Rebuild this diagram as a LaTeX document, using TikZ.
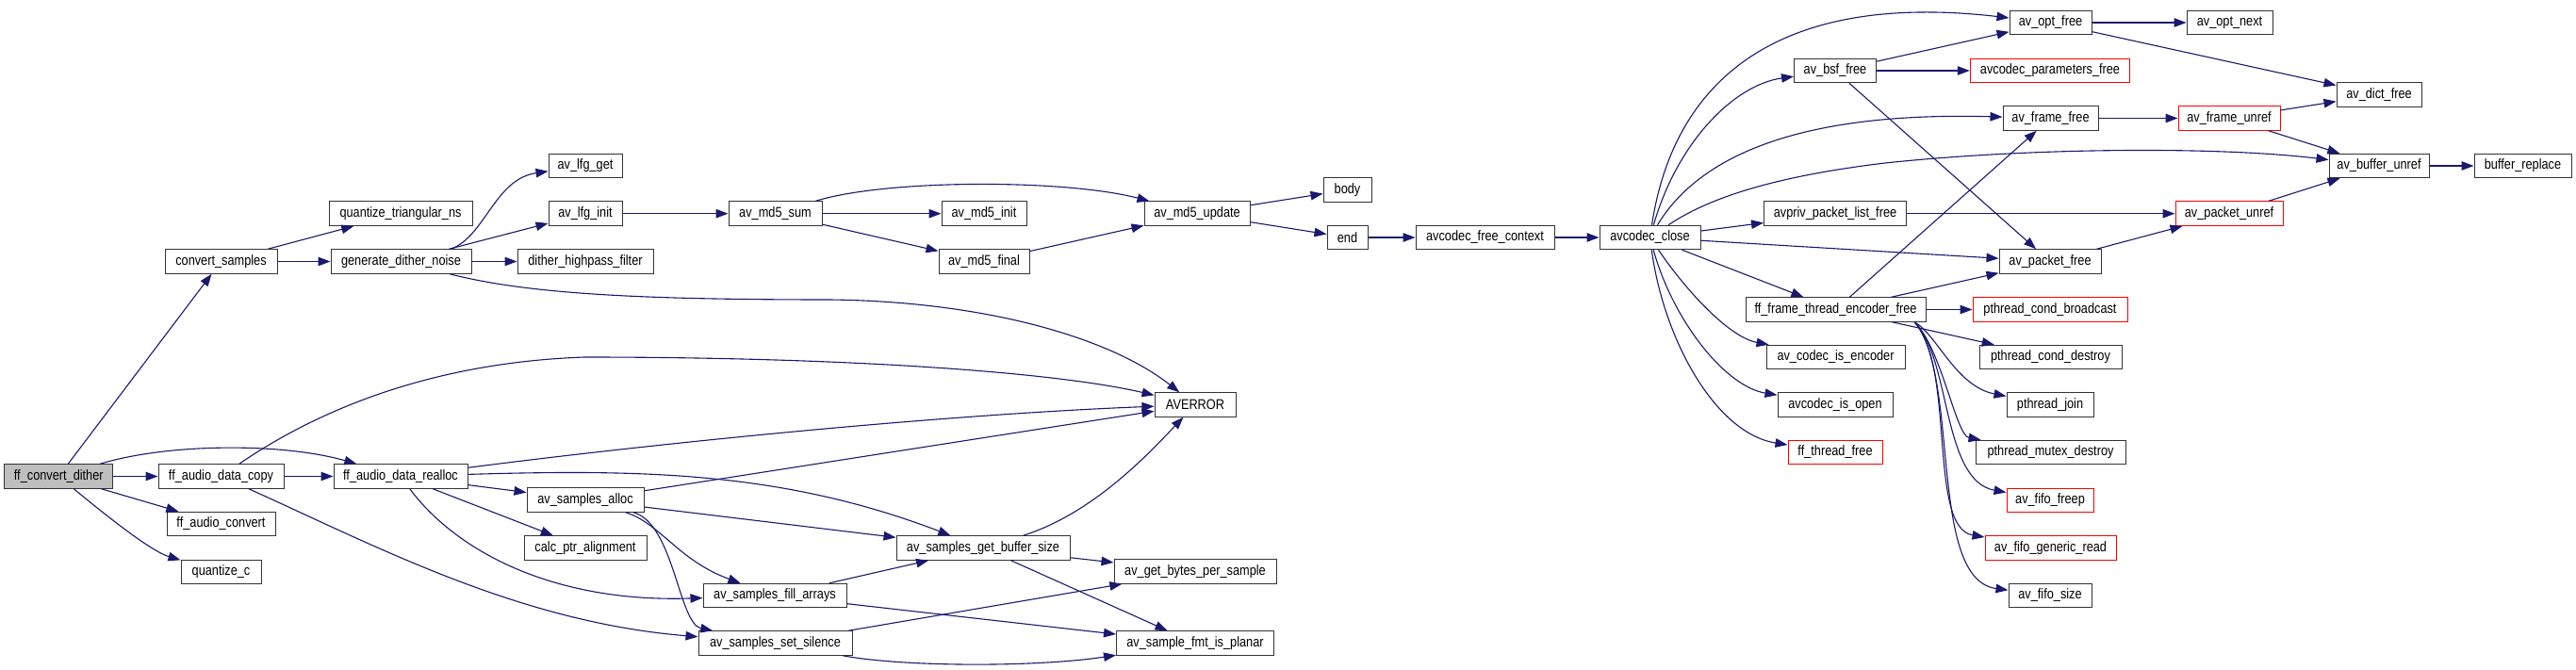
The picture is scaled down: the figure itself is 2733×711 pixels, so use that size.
\documentclass[tikz,border=0pt]{standalone}
\usepackage{fontspec}
\setmainfont[FakeStretch=0.85]{Liberation Sans}
\usetikzlibrary{arrows.meta}
\definecolor{edgecol}{HTML}{191970}
\definecolor{boxcol}{HTML}{333333}
\definecolor{grayfill}{HTML}{BFBFBF}
\definecolor{redcol}{HTML}{FF0000}
\tikzset{
  box/.style={draw=boxcol, fill=white, line width=1.0pt, minimum height=25.5pt, inner sep=0pt, font=\fontsize{15}{17}\selectfont},
  redbox/.style={box, draw=redcol},
  rootbox/.style={box, fill=grayfill},
  e/.style={draw=edgecol, line width=1.1pt, -{Triangle[length=13pt,width=9.5pt]}},
}
\begin{document}
\begin{tikzpicture}[x=1pt,y=-1pt]
\fill[white] (0,0) rectangle (2733,711);
\useasboundingbox (0,0) rectangle (2733,711);
% left part
\node[rootbox, minimum width=115] (ffcd) at (62.3,505.5) {ff\_convert\_dither};
\node[box, minimum width=119] (cs) at (234.5,277.5) {convert\_samples};
\node[box, minimum width=152] (qtn) at (425,226.7) {quantize\_triangular\_ns};
\node[box, minimum width=149] (gdn) at (425.5,277.5) {generate\_dither\_noise};
\node[box, minimum width=133] (adc) at (234.5,505.5) {ff\_audio\_data\_copy};
\node[box, minimum width=142] (adr) at (425,505.5) {ff\_audio\_data\_realloc};
\node[box, minimum width=115] (aconv) at (234.5,556) {ff\_audio\_convert};
\node[box, minimum width=85] (qc) at (234.5,607) {quantize\_c};
\node[box, minimum width=78] (lfgget) at (621,176) {av\_lfg\_get};
\node[box, minimum width=78] (lfginit) at (621,226.7) {av\_lfg\_init};
\node[box, minimum width=144] (dhf) at (621,277.5) {dither\_highpass\_filter};
\node[box, minimum width=99] (md5sum) at (822.5,226.7) {av\_md5\_sum};
\node[box, minimum width=90] (md5init) at (1044,226.7) {av\_md5\_init};
\node[box, minimum width=96] (md5final) at (1044,277.5) {av\_md5\_final};
\node[box, minimum width=112] (md5upd) at (1270,226.7) {av\_md5\_update};
\node[box, minimum width=86] (averror) at (1268,429.5) {AVERROR};
\node[box, minimum width=124] (alloc) at (621,530.5) {av\_samples\_alloc};
\node[box, minimum width=130] (cpa) at (621,581.5) {calc\_ptr\_alignment};
\node[box, minimum width=184] (gbs) at (1043,581.5) {av\_samples\_get\_buffer\_size};
\node[box, minimum width=152] (fill) at (822,632) {av\_samples\_fill\_arrays};
\node[box, minimum width=163] (silence) at (822.5,682.5) {av\_samples\_set\_silence};
\node[box, minimum width=172] (bytes) at (1268,606.5) {av\_get\_bytes\_per\_sample};
\node[box, minimum width=167] (planar) at (1268,682.5) {av\_sample\_fmt\_is\_planar};
\node[box, minimum width=51] (body) at (1429.5,201.5) {body};
\node[box, minimum width=43] (end) at (1429.5,252) {end};
\node[box, minimum width=147] (afc) at (1575.5,252) {avcodec\_free\_context};
\node[box, minimum width=107] (avc) at (1750.5,252) {avcodec\_close};
% right part
\node[box, minimum width=87] (bsf) at (1947,75) {av\_bsf\_free};
\node[box, minimum width=151] (aplf) at (1947,226.7) {avpriv\_packet\_list\_free};
\node[box, minimum width=191] (ffte) at (1947.5,328.5) {ff\_frame\_thread\_encoder\_free};
\node[box, minimum width=147] (isenc) at (1947.5,379) {av\_codec\_is\_encoder};
\node[box, minimum width=122] (isopen) at (1947,429.5) {avcodec\_is\_open};
\node[redbox, minimum width=100] (threadfree) at (1947,480) {ff\_thread\_free};
\node[box, minimum width=87] (optfree) at (2175.5,24) {av\_opt\_free};
\node[redbox, minimum width=169.5] (cpf) at (2175,75) {avcodec\_parameters\_free};
\node[box, minimum width=101] (framefree) at (2175.5,125.5) {av\_frame\_free};
\node[box, minimum width=108] (pktfree) at (2175,277.5) {av\_packet\_free};
\node[redbox, minimum width=164] (pcb) at (2175,328.5) {pthread\_cond\_broadcast};
\node[box, minimum width=151] (pcd) at (2175.5,379) {pthread\_cond\_destroy};
\node[box, minimum width=92] (pjoin) at (2175,429.5) {pthread\_join};
\node[box, minimum width=159] (pmd) at (2175.5,480) {pthread\_mutex\_destroy};
\node[redbox, minimum width=92] (freep) at (2175,531) {av\_fifo\_freep};
\node[redbox, minimum width=139] (generic) at (2175.5,581.5) {av\_fifo\_generic\_read};
\node[box, minimum width=88] (fifosize) at (2175,632) {av\_fifo\_size};
\node[box, minimum width=91] (optnext) at (2365.5,24) {av\_opt\_next};
\node[redbox, minimum width=108] (frameunref) at (2365,125.5) {av\_frame\_unref};
\node[redbox, minimum width=114] (pktunref) at (2365,226.7) {av\_packet\_unref};
\node[box, minimum width=90] (dictfree) at (2524,100.5) {av\_dict\_free};
\node[box, minimum width=106] (bufunref) at (2524,176) {av\_buffer\_unref};
\node[box, minimum width=103] (bufrep) at (2676.5,176) {buffer\_replace};
% edges left
\draw[e] (ffcd) -- (cs);
\draw[e] (ffcd) -- (adc);
\draw[e] (ffcd) .. controls (180,470) and (300,470) .. (adr);
\draw[e] (ffcd) -- (aconv);
\draw[e] (ffcd) .. controls (110,545) and (160,585) .. (qc);
\draw[e] (cs) -- (qtn);
\draw[e] (cs) -- (gdn);
\draw[e] (gdn.14.5) .. controls (515,250) and (525,190) .. (lfgget);
\draw[e] (gdn) -- (lfginit);
\draw[e] (gdn) -- (dhf);
\draw[e] (gdn) .. controls (560,312) and (680,318) .. (880,318) .. controls (1050,320) and (1180,360) .. (averror);
\draw[e] (lfginit) -- (md5sum);
\draw[e] (md5sum) .. controls (940,190) and (1130,190) .. (md5upd);
\draw[e] (md5sum) -- (md5init);
\draw[e] (md5sum) -- (md5final);
\draw[e] (md5final) -- (md5upd);
\draw[e] (md5upd) -- (body);
\draw[e] (md5upd) -- (end);
\draw[e] (end) -- (afc);
\draw[e] (afc) -- (avc);
\draw[e] (adc) .. controls (330,440) and (450,385) .. (620,379) .. controls (900,379) and (1120,395) .. (averror);
\draw[e] (adc) -- (adr);
\draw[e] (adc) .. controls (400,580) and (550,660) .. (silence);
\draw[e] (adr) .. controls (700,470) and (1000,440) .. (averror);
\draw[e] (adr) .. controls (680,498) and (830,500) .. (gbs);
\draw[e] (adr) -- (alloc);
\draw[e] (adr) -- (cpa);
\draw[e] (adr) .. controls (480,580) and (580,640) .. (fill);
\draw[e] (alloc) -- (averror);
\draw[e] (alloc) -- (gbs);
\draw[e] (alloc) .. controls (700,555) and (720,595) .. (fill);
\draw[e] (alloc) .. controls (715,555) and (720,662) .. (silence);
\draw[e] (fill) -- (gbs);
\draw[e] (fill) -- (planar);
\draw[e] (silence) -- (bytes);
\draw[e] (silence) .. controls (960,708) and (1100,708) .. (planar);
\draw[e] (gbs) .. controls (1160,545) and (1220,480) .. (averror);
\draw[e] (gbs) -- (bytes);
\draw[e] (gbs) -- (planar);
% edges right
\draw[e] (avc) .. controls (1775,90) and (1880,-10) .. (optfree);
\draw[e] (avc) .. controls (1780,150) and (1840,90) .. (bsf);
\draw[e] (avc) .. controls (1800,170) and (1900,118) .. (framefree);
\draw[e] (avc) .. controls (1820,205) and (1900,185) .. (2000,173) .. controls (2150,157) and (2350,155) .. (bufunref);
\draw[e] (avc) -- (aplf);
\draw[e] (avc) -- (pktfree);
\draw[e] (avc) -- (ffte);
\draw[e] (avc) .. controls (1790,310) and (1835,358) .. (isenc);
\draw[e] (avc) .. controls (1775,340) and (1830,410) .. (isopen);
\draw[e] (avc) .. controls (1765,360) and (1820,460) .. (threadfree);
\draw[e] (bsf) -- (optfree);
\draw[e] (bsf) -- (cpf);
\draw[e] (bsf) -- (pktfree);
\draw[e] (optfree) -- (optnext);
\draw[e] (optfree) -- (dictfree);
\draw[e] (framefree) -- (frameunref);
\draw[e] (frameunref) -- (dictfree);
\draw[e] (frameunref) -- (bufunref);
\draw[e] (bufunref) -- (bufrep);
\draw[e] (aplf) -- (pktunref);
\draw[e] (pktfree) -- (pktunref);
\draw[e] (pktunref) -- (bufunref);
\draw[e] (ffte) -- (framefree);
\draw[e] (ffte) -- (pktfree);
\draw[e] (ffte) -- (pcb);
\draw[e] (ffte) -- (pcd);
\draw[e] (ffte.-9.3) .. controls (2055,355) and (2075,410) .. (pjoin);
\draw[e] (ffte.-9.3) .. controls (2060,370) and (2075,462) .. (pmd);
\draw[e] (ffte.-9.3) .. controls (2070,380) and (2060,510) .. (freep);
\draw[e] (ffte.-9.3) .. controls (2075,390) and (2045,560) .. (generic);
\draw[e] (ffte.-9.3) .. controls (2080,400) and (2045,615) .. (fifosize);
\end{tikzpicture}
\end{document}
